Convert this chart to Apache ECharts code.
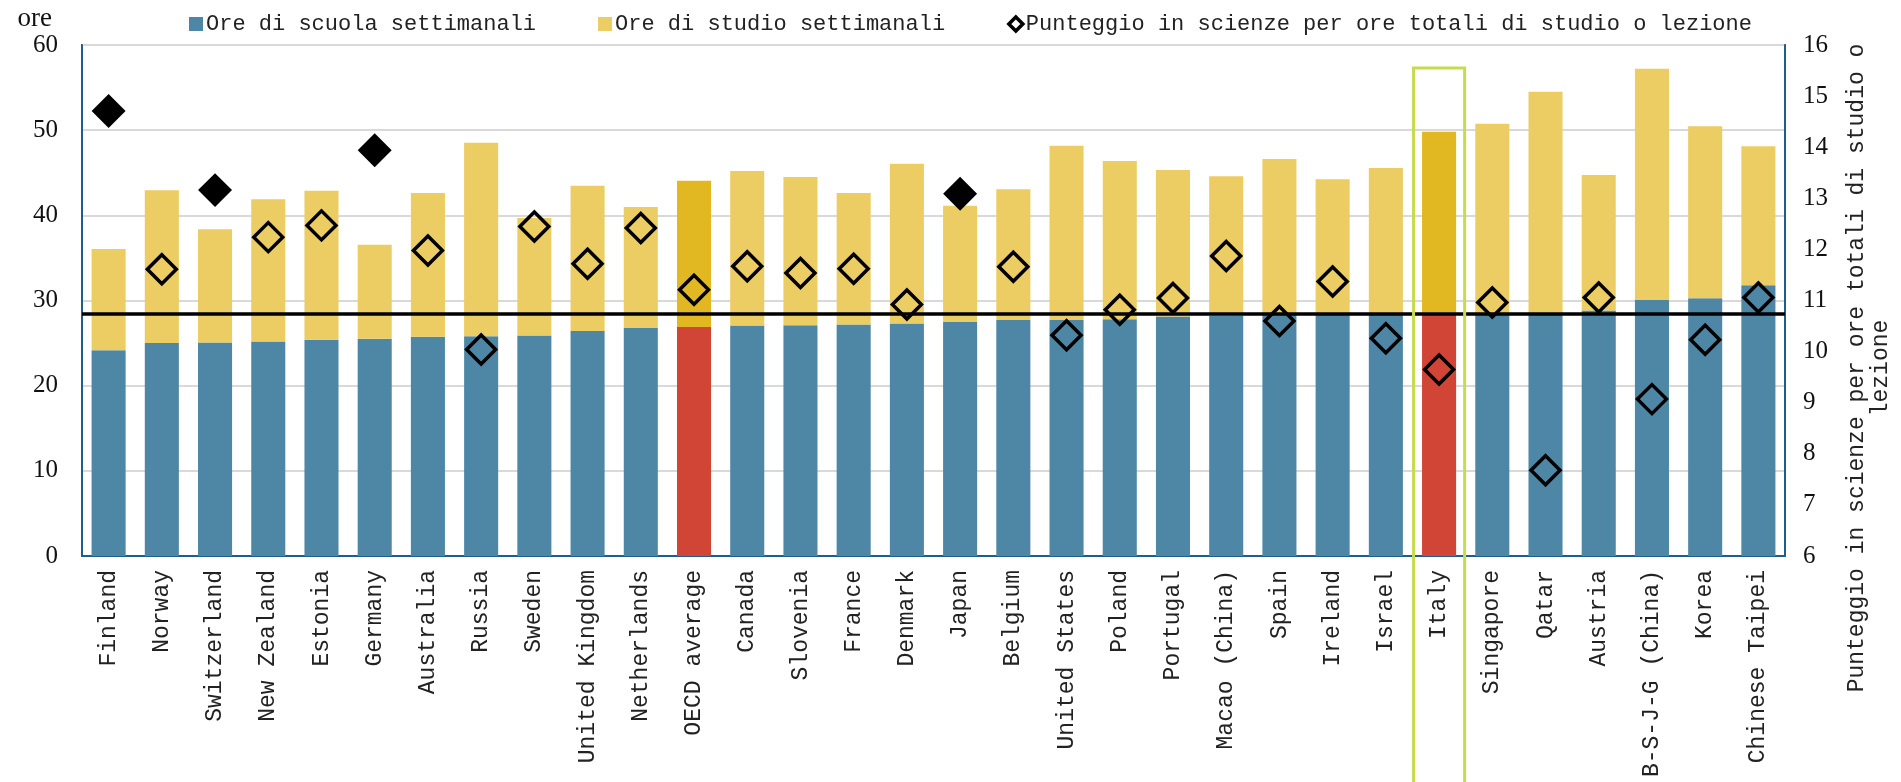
<!DOCTYPE html>
<html>
<head>
<meta charset="utf-8">
<title>Ore di studio e punteggio in scienze</title>
<script src="https://cdn.jsdelivr.net/npm/echarts@6.0.0/dist/echarts.min.js"></script>
<style>
  html, body { margin: 0; padding: 0; background: #fff; }
  #chart { width: 1901px; height: 782px; }
</style>
</head>
<body>
<div id="chart"></div>
<script>
const categories = [
  'Finland', 'Norway', 'Switzerland', 'New Zealand', 'Estonia', 'Germany', 'Australia', 'Russia',
  'Sweden', 'United Kingdom', 'Netherlands', 'OECD average', 'Canada', 'Slovenia', 'France', 'Denmark',
  'Japan', 'Belgium', 'United States', 'Poland', 'Portugal', 'Macao (China)', 'Spain', 'Ireland',
  'Israel', 'Italy', 'Singapore', 'Qatar', 'Austria', 'B-S-J-G (China)', 'Korea', 'Chinese Taipei'
]

// ore di lezione a scuola (settimanali)
const schoolHours = [
  24.15, 25.0, 25.08, 25.2, 25.4, 25.5, 25.73, 25.81,
  25.89, 26.42, 26.78, 26.9, 27.06, 27.1, 27.18, 27.31,
  27.47, 27.71, 27.71, 27.79, 28.11, 28.25, 28.35, 28.45,
  28.45, 28.5, 28.5, 28.55, 28.84, 30.06, 30.26, 31.8
]

// ore di studio fuori scuola (settimanali)
const studyHours = [
  11.9, 17.95, 13.3, 16.7, 17.5, 11.05, 16.9, 22.7,
  13.8, 17.05, 14.2, 17.15, 18.15, 17.4, 15.45, 18.75,
  13.65, 15.35, 20.45, 18.6, 17.2, 16.35, 18.25, 15.8,
  17.1, 21.3, 22.25, 25.95, 15.9, 27.15, 20.2, 16.3
]

// punteggio in scienze per ore totali
const scorePerHour = [
  14.71, 11.61, 13.16, 12.24, 12.47, 13.94, 11.98, 10.04,
  12.45, 11.72, 12.42, 11.21, 11.67, 11.54, 11.62, 10.92,
  13.09, 11.66, 10.32, 10.82, 11.05, 11.87, 10.6, 11.37,
  10.26, 9.65, 10.96, 7.68, 11.06, 9.07, 10.23, 11.06
]

const filledMarkers = ['Finland', 'Switzerland', 'Germany', 'Japan']
const highlighted = ['OECD average', 'Italy']
const referenceCountry = 'Italy'
const boxTopValue = 57.3

const BLUE = '#4e87a6'
const YELLOW = '#ebcd63'
const RED = '#d04535'
const GOLD = '#e2b822'
const GREEN = '#c6dc4e'
const FRAME = '#1f5e8c'
const MONO = '"Liberation Mono", "DejaVu Sans Mono", monospace'
const SERIF = '"Liberation Serif", "DejaVu Serif", serif'

const chart = echarts.init(document.getElementById('chart'), null, { renderer: 'canvas' })

const refIndex = categories.indexOf(referenceCountry)

const schoolData = schoolHours.map((v, i) => ({
  value: v,
  itemStyle: { color: highlighted.includes(categories[i]) ? RED : BLUE }
}))
const studyData = studyHours.map((v, i) => ({
  value: v,
  itemStyle: { color: highlighted.includes(categories[i]) ? GOLD : YELLOW }
}))
const scoreData = scorePerHour.map((v, i) => {
  if (filledMarkers.includes(categories[i])) {
    return { value: v, itemStyle: { color: '#000', borderColor: '#000', opacity: 1 } }
  }
  return v
})

const options = {
  animation: false,
  textStyle: { fontFamily: MONO },
  legend: {
    left: 184,
    top: 8,
    itemWidth: 14,
    itemHeight: 14,
    itemGap: 62,
    textStyle: { fontFamily: MONO, fontSize: 22, color: '#222', padding: [0, 0, 0, -2] },
    data: [
      { name: 'Ore di scuola settimanali', icon: 'rect' },
      { name: 'Ore di studio settimanali', icon: 'rect' },
      { name: 'Punteggio in scienze per ore totali di studio o lezione', icon: 'diamond', itemStyle: { borderWidth: 3.5 } }
    ]
  },
  grid: {
    left: 82,
    right: 116,
    top: 45,
    bottom: 226,
    show: true,
    borderColor: FRAME,
    borderWidth: 2
  },
  xAxis: {
    type: 'category',
    data: categories,
    axisLine: { lineStyle: { color: FRAME, width: 2 } },
    axisTick: { show: false },
    axisLabel: {
      interval: 0,
      rotate: 90,
      margin: 14,
      fontFamily: MONO,
      fontSize: 23,
      color: '#222'
    }
  },
  yAxis: [
    {
      type: 'value',
      min: 0,
      max: 60,
      interval: 10,
      name: 'ore',
      nameLocation: 'end',
      nameGap: 8,
      nameTextStyle: { fontFamily: SERIF, fontSize: 27, color: '#111', align: 'right', padding: [0, 30, 0, 0] },
      axisLine: { show: true, lineStyle: { color: FRAME, width: 2 } },
      axisTick: { show: false },
      axisLabel: { fontFamily: SERIF, fontSize: 25, color: '#111', margin: 24 },
      splitLine: { lineStyle: { color: '#d9d9d9', width: 2 } }
    },
    {
      type: 'value',
      min: 6,
      max: 16,
      interval: 1,
      position: 'right',
      axisLine: { show: true, lineStyle: { color: FRAME, width: 2 } },
      axisTick: { show: false },
      axisLabel: { fontFamily: SERIF, fontSize: 25, color: '#111', margin: 18 },
      splitLine: { show: false }
    }
  ],
  series: [
    {
      name: 'Ore di scuola settimanali',
      type: 'bar',
      stack: 'ore',
      barCategoryGap: '36%',
      itemStyle: { color: BLUE },
      data: schoolData,
      markLine: {
        silent: true,
        symbol: 'none',
        label: { show: false },
        lineStyle: { color: '#000', width: 3.5, type: 'solid' },
        data: [{ yAxis: schoolHours[refIndex] }],
        z: 5
      }
    },
    {
      name: 'Ore di studio settimanali',
      type: 'bar',
      stack: 'ore',
      barCategoryGap: '36%',
      itemStyle: { color: YELLOW },
      data: studyData
    },
    {
      name: 'Punteggio in scienze per ore totali di studio o lezione',
      type: 'scatter',
      yAxisIndex: 1,
      symbol: 'diamond',
      symbolSize: 29,
      z: 10,
      itemStyle: { color: 'rgba(0,0,0,0)', borderColor: '#000', borderWidth: 3.5, opacity: 1 },
      data: scoreData
    }
  ]
}

chart.setOption(options)

// riquadro verde attorno all'Italia + titolo dell'asse destro
const drawExtras = () => {
  const cx = chart.convertToPixel({ xAxisIndex: 0 }, referenceCountry)
  const band = chart.convertToPixel({ xAxisIndex: 0 }, categories[1]) - chart.convertToPixel({ xAxisIndex: 0 }, categories[0])
  const top = chart.convertToPixel({ yAxisIndex: 0 }, boxTopValue)
  const w = band * 0.96
  chart.setOption({
    graphic: [
      {
        type: 'rect',
        id: 'italyBox',
        z: 20,
        shape: { x: cx - w / 2, y: top, width: w, height: chart.getHeight() - top + 10 },
        style: { fill: 'none', stroke: GREEN, lineWidth: 3 }
      },
      {
        type: 'text',
        id: 'rightTitle',
        x: 1869,
        y: 368,
        rotation: Math.PI / 2,
        style: {
          text: 'Punteggio in scienze per ore totali di studio o\nlezione',
          font: '23px ' + MONO,
          fill: '#222',
          align: 'center',
          verticalAlign: 'middle',
          lineHeight: 24
        }
      }
    ]
  })
}

drawExtras()
</script>
</body>
</html>
